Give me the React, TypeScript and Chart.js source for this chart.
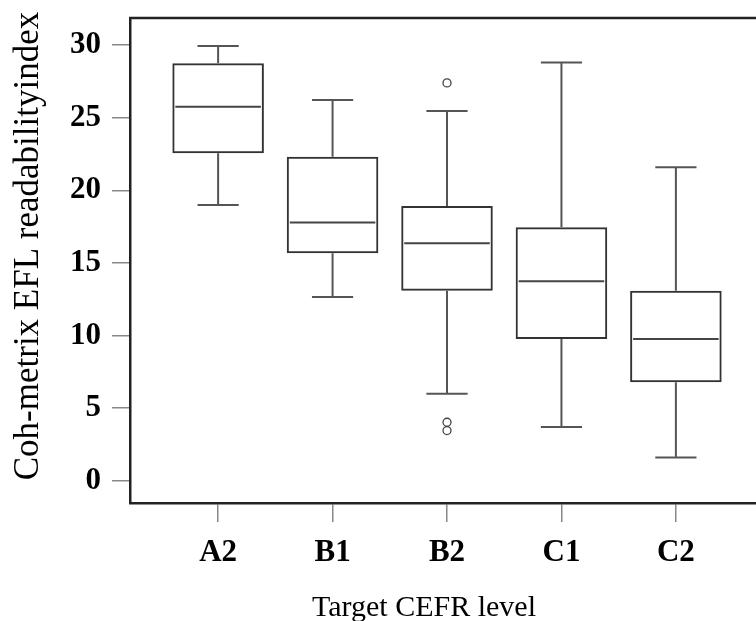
import React, { useEffect, useRef } from 'react';
import { Chart, registerables } from 'chart.js';

Chart.register(...registerables);

const categories = ['A2', 'B1', 'B2', 'C1', 'C2'];
const whiskerLow = [19.0, 12.65, 6.0, 3.7, 1.6];
const q1 = [22.55, 15.67, 13.08, 9.77, 6.79];
const median = [25.76, 17.78, 16.36, 13.74, 9.77];
const q3 = [28.75, 22.32, 18.93, 17.46, 13.08];
const whiskerHigh = [29.94, 26.22, 25.46, 28.81, 21.59];
const outlierCategory = ['B2', 'B2', 'B2'];
const outlierValues = [27.4, 4.03, 3.46];
const yTicks = [0, 5, 10, 15, 20, 25, 30];
const yTitle = 'Coh-metrix EFL readabilityindex';
const xTitle = 'Target CEFR level';

const SERIF = '"Liberation Serif", "Times New Roman", serif';

const boxPlugin = {
  id: 'boxWhiskers',
  afterDatasetsDraw(chart: any) {
    const { ctx, scales, chartArea } = chart;
    const x = scales.x;
    const y = scales.y;
    const meta = chart.getDatasetMeta(0);
    ctx.save();
    ctx.lineCap = 'butt';
    meta.data.forEach((bar: any, i: number) => {
      const cx = x.getPixelForValue(i + 1);
      const half = bar.width / 2;
      const capHalf = half * 0.45;
      ctx.strokeStyle = '#444';
      ctx.lineWidth = 2;
      const ym = y.getPixelForValue(median[i]);
      ctx.beginPath();
      ctx.moveTo(cx - half + 3, ym);
      ctx.lineTo(cx + half - 3, ym);
      ctx.stroke();
      ctx.strokeStyle = '#555';
      const yq3 = y.getPixelForValue(q3[i]);
      const yq1 = y.getPixelForValue(q1[i]);
      const yh = y.getPixelForValue(whiskerHigh[i]);
      const yl = y.getPixelForValue(whiskerLow[i]);
      ctx.beginPath();
      ctx.moveTo(cx, yq3);
      ctx.lineTo(cx, yh);
      ctx.moveTo(cx - capHalf, yh);
      ctx.lineTo(cx + capHalf, yh);
      ctx.moveTo(cx, yq1);
      ctx.lineTo(cx, yl);
      ctx.moveTo(cx - capHalf, yl);
      ctx.lineTo(cx + capHalf, yl);
      ctx.stroke();
    });
    // top frame line
    ctx.strokeStyle = '#222';
    ctx.lineWidth = 2.5;
    ctx.beginPath();
    ctx.moveTo(chartArea.left - 1, chartArea.top);
    ctx.lineTo(chartArea.right, chartArea.top);
    ctx.stroke();
    // axis titles
    ctx.fillStyle = '#000';
    ctx.textAlign = 'center';
    ctx.font = '30px ' + SERIF;
    ctx.textBaseline = 'alphabetic';
    ctx.fillText(xTitle, 424, 616);
    ctx.font = '35px ' + SERIF;
    ctx.textBaseline = 'middle';
    ctx.translate(29, 246);
    ctx.rotate(-Math.PI / 2);
    ctx.fillText(yTitle, 0, 0);
    ctx.restore();
  },
};

export default function App() {
  const canvasRef = useRef<HTMLCanvasElement | null>(null);

  useEffect(() => {
    document.body.style.margin = '0';
    const canvas = canvasRef.current;
    if (!canvas) return;
    const chart = new Chart(canvas, {
      type: 'bar',
      data: {
        datasets: [
          {
            type: 'bar',
            label: 'box',
            data: categories.map((c, i) => ({ x: i + 1, y: [q1[i], q3[i]] })) as any,
            backgroundColor: 'rgba(0,0,0,0)',
            borderColor: '#333',
            borderWidth: 2,
            borderSkipped: false,
            categoryPercentage: 0.8,
            barPercentage: 1,
          } as any,
          {
            type: 'scatter',
            label: 'outliers',
            data: outlierValues.map((v, i) => ({ x: categories.indexOf(outlierCategory[i]) + 1, y: v })),
            pointStyle: 'circle',
            pointRadius: 4,
            backgroundColor: 'rgba(0,0,0,0)',
            borderColor: '#444',
            borderWidth: 1.3,
          } as any,
        ],
      },
      options: {
        animation: false,
        responsive: true,
        maintainAspectRatio: false,
        layout: { autoPadding: false, padding: { top: 18, right: 0, left: 0, bottom: 0 } },
        plugins: {
          legend: { display: false },
          tooltip: { enabled: false },
        },
        scales: {
          x: {
            type: 'linear',
            offset: false,
            min: 0.23,
            max: 5.7,
            afterBuildTicks: (scale: any) => {
              scale.ticks = categories.map((_, i) => ({ value: i + 1 }));
            },
            afterFit: (scale: any) => {
              scale.height = 118;
              scale.paddingLeft = 0;
              scale.paddingRight = 0;
            },
            ticks: {
              callback: (v: any) => categories[Math.round(Number(v)) - 1] ?? '',
              color: '#000',
              font: { family: SERIF, size: 31, weight: 'bold' },
              padding: 12,
              maxRotation: 0,
              autoSkip: false,
            },
            grid: {
              offset: false,
              drawOnChartArea: false,
              drawTicks: true,
              tickLength: 19,
              color: '#888',
              lineWidth: 1.5,
            },
            border: { display: true, color: '#222', width: 2.5 },
            title: { display: false },
          },
          y: {
            type: 'linear',
            min: -1.53,
            max: 31.87,
            afterBuildTicks: (scale: any) => {
              scale.ticks = yTicks.map((v) => ({ value: v }));
            },
            afterFit: (scale: any) => {
              scale.width = 130;
              scale.paddingTop = 0;
              scale.paddingBottom = 0;
            },
            ticks: {
              color: '#000',
              font: { family: SERIF, size: 31, weight: 'bold' },
              padding: 11,
            },
            grid: {
              drawOnChartArea: false,
              drawTicks: true,
              tickLength: 18,
              color: '#888',
              lineWidth: 1.5,
            },
            border: { display: true, color: '#222', width: 2.5 },
            title: { display: false },
          },
        },
      } as any,
      plugins: [boxPlugin],
    });
    return () => chart.destroy();
  }, []);

  return (
    <div style={{ width: 756, height: 621, position: 'relative' }}>
      <canvas ref={canvasRef} />
    </div>
  );
}
